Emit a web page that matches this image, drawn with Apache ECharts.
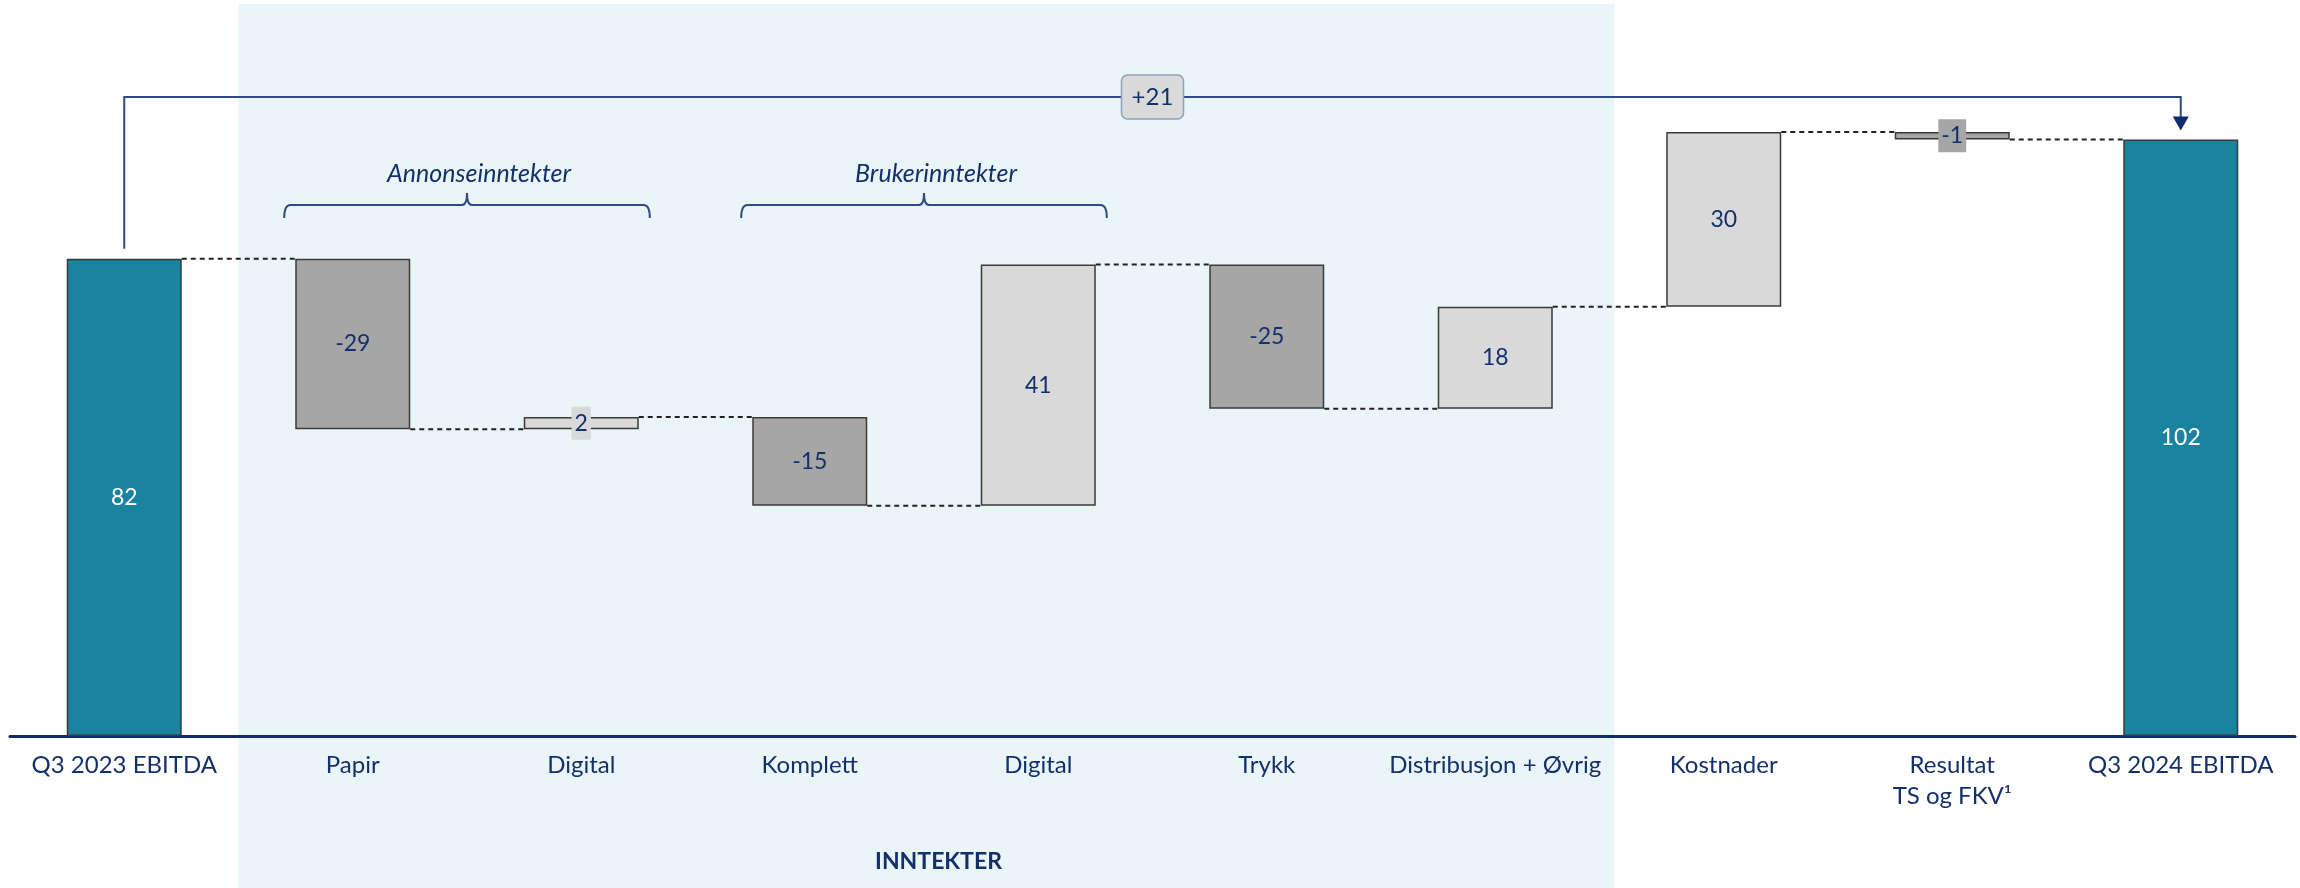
<!DOCTYPE html>
<html>
<head>
<meta charset="utf-8">
<script src="https://cdn.jsdelivr.net/npm/echarts@6/dist/echarts.min.js"></script>
<style>
  html, body { margin: 0; padding: 0; background: #fff; }
  #chart { width: 2300px; height: 888px; }
</style>
</head>
<body>
<div id="chart"></div>
<script>
// x axis categories
const categories = ['Q3 2023 EBITDA', 'Papir', 'Digital', 'Komplett', 'Digital', 'Trykk',
  'Distribusjon + Øvrig', 'Kostnader', 'Resultat\nTS og FKV¹', 'Q3 2024 EBITDA'];
// values (MNOK)
const startValue = 81.7;
const deltas = [-29.2, 2.1, -15.2, 41.3, -24.7, 17.5, 29.9, -1.3];
const endValue = 102.1;
// printed labels
const valueLabels = ['82', '-29', '2', '-15', '41', '-25', '18', '30', '-1', '102'];
const totalChange = '+21';
// brackets above the bars
const groupNames = ['Annonseinntekter', 'Brukerinntekter'];
const groupFrom = [1, 3];
const groupTo = [2, 4];
// shaded section
const sectionName = 'INNTEKTER';
const sectionFrom = 1;
const sectionTo = 6;

const NAVY = '#14306b';
const FONT = 'Lato, "Open Sans", sans-serif';

// waterfall: invisible base + visible body, levels = running total after each bar
const bases = [], bodies = [], levels = [], kinds = [];
let run = startValue;
bases.push(0); bodies.push(startValue); levels.push(startValue); kinds.push('total');
deltas.forEach(function (d) {
  const next = run + d;
  bases.push(Math.min(run, next));
  bodies.push(Math.abs(d));
  levels.push(next);
  kinds.push(d < 0 ? 'neg' : 'pos');
  run = next;
});
bases.push(0); bodies.push(endValue); levels.push(endValue); kinds.push('total');

const fills = { total: '#1a83a0', neg: '#a6a6a6', pos: '#d9d9d9' };

const bodyData = bodies.map(function (v, i) {
  const small = v < 3;
  return {
    value: v,
    itemStyle: { color: fills[kinds[i]] },
    label: {
      color: kinds[i] === 'total' ? '#ffffff' : NAVY,
      backgroundColor: small ? fills[kinds[i]] : 'transparent',
      padding: small ? [5, 3, 5, 3] : 0
    }
  };
});

const chart = echarts.init(document.getElementById('chart'));

function shadeItem(params, api) {
  const bw = api.size([1, 0])[0];
  const x1 = api.coord([sectionFrom, 0])[0] - bw / 2;
  const x2 = api.coord([sectionTo, 0])[0] + bw / 2 + 5;
  return {
    type: 'group',
    children: [
      { type: 'rect', shape: { x: x1, y: 4, width: x2 - x1, height: 884 }, style: { fill: '#e9f5f7' } },
      { type: 'text', x: (x1 + x2) / 2 + 12, y: 862,
        style: { text: sectionName, fill: NAVY, fontSize: 23, fontWeight: 'bold', fontFamily: FONT,
                 align: 'center', verticalAlign: 'middle' } }
    ]
  };
}

function overlayItem(params, api) {
  const bw = api.size([1, 0])[0];
  const half = 115 / 2;
  const kids = [];
  // dashed connectors between bars
  for (let i = 0; i < levels.length - 1; i++) {
    const a = api.coord([i, levels[i]]);
    const b = api.coord([i + 1, levels[i]]);
    kids.push({ type: 'line', shape: { x1: a[0] + half, y1: a[1], x2: b[0] - half, y2: b[1] },
      style: { stroke: '#222222', lineWidth: 2, lineDash: [5, 4] } });
  }
  // total change arrow
  const last = levels.length - 1;
  const p0 = api.coord([0, levels[0]]);
  const p1 = api.coord([last, levels[last]]);
  const lineY = 97;
  kids.push({ type: 'polyline', shape: { points: [[p0[0], p0[1] - 10], [p0[0], lineY], [p1[0], lineY], [p1[0], p1[1] - 22]] },
    style: { stroke: '#2f4b86', lineWidth: 2, fill: null } });
  kids.push({ type: 'polygon', shape: { points: [[p1[0] - 8, p1[1] - 23], [p1[0] + 8, p1[1] - 23], [p1[0], p1[1] - 9]] },
    style: { fill: '#0f2d6b' } });
  const mx = (p0[0] + p1[0]) / 2;
  kids.push({ type: 'rect', shape: { x: mx - 31, y: lineY - 22, width: 62, height: 44, r: 6 },
    style: { fill: '#dadada', stroke: '#8ea0bd', lineWidth: 1.5 } });
  kids.push({ type: 'text', x: mx, y: lineY,
    style: { text: totalChange, fill: NAVY, fontSize: 24, fontFamily: FONT, align: 'center', verticalAlign: 'middle' } });
  // group brackets
  groupNames.forEach(function (name, g) {
    const xa = api.coord([groupFrom[g], 0])[0] - bw * 0.3;
    const xb = api.coord([groupTo[g], 0])[0] + bw * 0.3;
    const cx = (xa + xb) / 2;
    const y = 205;
    const d = 'M' + xa + ' ' + (y + 13) + ' Q' + xa + ' ' + y + ' ' + (xa + 6) + ' ' + y +
      ' L' + (cx - 5) + ' ' + y + ' Q' + cx + ' ' + y + ' ' + cx + ' ' + (y - 12) +
      ' Q' + cx + ' ' + y + ' ' + (cx + 5) + ' ' + y +
      ' L' + (xb - 6) + ' ' + y + ' Q' + xb + ' ' + y + ' ' + xb + ' ' + (y + 13);
    kids.push({ type: 'path', shape: { pathData: d }, style: { stroke: '#2f4b86', lineWidth: 2, fill: null } });
    kids.push({ type: 'text', x: cx + 12, y: 174,
      style: { text: name, fill: NAVY, fontSize: 25, fontStyle: 'italic', fontFamily: FONT,
               align: 'center', verticalAlign: 'middle' } });
  });
  return { type: 'group', children: kids };
}

chart.setOption({
  animation: false,
  grid: { left: 10, right: 5, top: 35, bottom: 152 },
  xAxis: {
    type: 'category',
    data: categories,
    axisTick: { show: false },
    axisLine: { lineStyle: { color: '#0f2d6b', width: 3 } },
    axisLabel: { color: NAVY, fontSize: 24, fontFamily: FONT, margin: 14, lineHeight: 31, interval: 0 }
  },
  yAxis: { type: 'value', min: 0, max: 120, show: false, splitLine: { show: false } },
  series: [
    { type: 'custom', z: 0, silent: true, renderItem: shadeItem, data: [0] },
    {
      type: 'bar', stack: 'w', z: 2, barWidth: 115, silent: true,
      itemStyle: { color: 'transparent' }, data: bases
    },
    {
      type: 'bar', stack: 'w', z: 2, barWidth: 115, silent: true,
      itemStyle: { borderColor: '#3a3a3a', borderWidth: 1.5 },
      label: {
        show: true, position: 'inside', fontSize: 23, fontFamily: FONT,
        formatter: function (p) { return valueLabels[p.dataIndex]; }
      },
      data: bodyData
    },
    { type: 'custom', z: 3, silent: true, renderItem: overlayItem, data: [0] }
  ]
});
</script>
</body>
</html>
